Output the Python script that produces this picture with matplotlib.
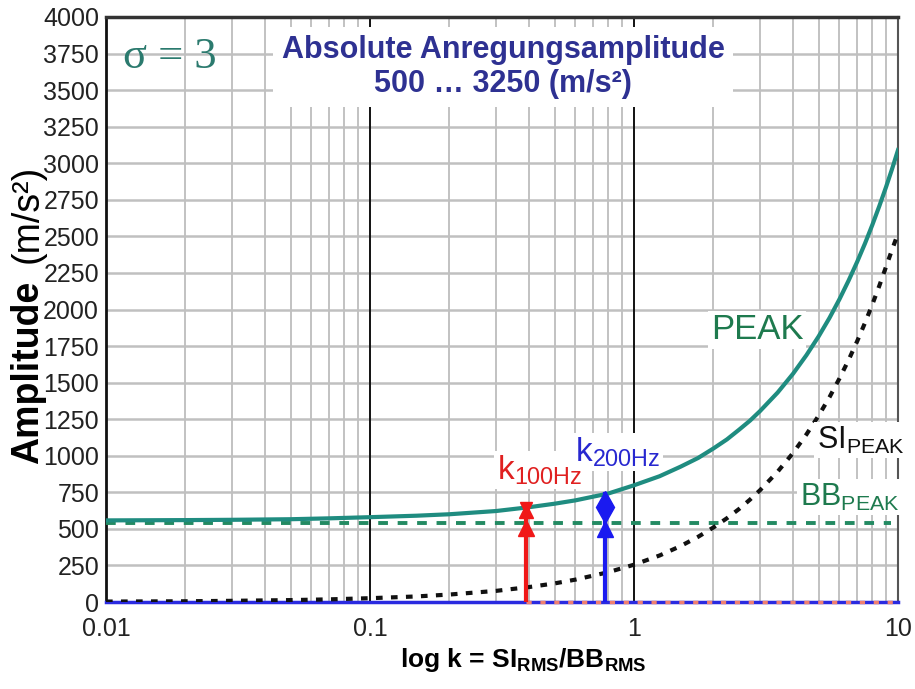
import numpy as np
import matplotlib
matplotlib.use("Agg")
import matplotlib.pyplot as plt

# values (k = SI_rms / BB_rms, amplitude in m/s^2)
k_vals = [0.01, 0.02, 0.03, 0.05, 0.07, 0.1, 0.15, 0.2, 0.3, 0.4, 0.5, 0.6, 0.8,
          1.0, 1.25, 1.5, 1.75, 2.0, 2.25, 2.5, 2.75, 3.0, 3.5, 4.0, 4.5, 5.0,
          5.5, 6.0, 6.5, 7.0, 7.5, 8.0, 8.5, 9.0, 9.5, 10.0]
peak = [558, 560, 562, 566, 572, 580, 590, 600, 622, 648, 672, 695, 742,
        798, 860, 925, 985, 1050, 1112, 1178, 1240, 1305, 1432, 1560, 1688, 1815,
        1942, 2070, 2198, 2325, 2452, 2580, 2708, 2835, 2962, 3090]
si_peak = [3, 5, 8, 13, 18, 26, 38, 51, 76, 102, 127, 153, 204,
           255, 318, 382, 446, 510, 573, 636, 700, 764, 891, 1018, 1146, 1273,
           1400, 1528, 1655, 1782, 1909, 2036, 2163, 2290, 2410, 2520]
bb_k = [0.01, 9.4]
bb_peak = [540, 540]

k100 = 0.39
k200 = 0.775
k100_top = 650
k200_top = 738

y_ticks = list(range(0, 4001, 250))
x_ticks = [0.01, 0.1, 1, 10]
x_ticklabels = ["0.01", "0.1", "1", "10"]

plt.rcParams['font.family'] = ['Liberation Sans', 'DejaVu Sans']
plt.rcParams['mathtext.fontset'] = 'custom'
plt.rcParams['mathtext.rm'] = 'Liberation Sans'
plt.rcParams['mathtext.bf'] = 'Liberation Sans:bold'
plt.rcParams['mathtext.it'] = 'Liberation Sans:italic'

W, H = 915, 689
def fx(x):
    return x / W
def fy(y):
    return 1 - y / H

teal = '#1f8c80'
green = '#1e7a4e'

fig = plt.figure(figsize=(W / 100, H / 100), dpi=100)
ax = fig.add_axes([fx(106), fy(602), (898 - 106) / W, (602 - 17) / H])

ax.set_xscale('log')
ax.set_xlim(0.01, 10)
ax.set_ylim(0, 4000)

# grid
ax.set_yticks(y_ticks)
ax.set_xticks(x_ticks)
ax.set_xticklabels(x_ticklabels)
ax.grid(True, which='minor', axis='x', color='#bdbdbd', lw=1.3)
ax.grid(True, which='major', axis='y', color='#c0c0c0', lw=1.8)
for xv in [0.1, 1]:
    ax.axvline(xv, color='#111111', lw=1.4, zorder=1)
ax.set_axisbelow(True)

ax.tick_params(which='both', length=0)
ax.tick_params(axis='y', pad=5)
ax.tick_params(axis='x', pad=11)
for lab in ax.get_yticklabels() + ax.get_xticklabels():
    lab.set_fontsize(18)
    lab.set_color('#222222')

for s in ['left', 'bottom']:
    ax.spines[s].set_linewidth(2)
    ax.spines[s].set_color('#111111')
ax.spines['top'].set_linewidth(2.5)
ax.spines['top'].set_color('#333333')
ax.spines['right'].set_linewidth(1.5)
ax.spines['right'].set_color('#555555')

# baseline
ax.plot([0.01, 10], [0, 0], color='#2a2ae0', lw=2.5, zorder=3, clip_on=False)
ax.plot([k100, 10], [0, 0], color='#f08070', lw=2.5, ls=(0, (1.5, 2.5)), zorder=3, clip_on=False)

# curves
ax.plot(bb_k, bb_peak, color='#238a62', lw=2.8, ls=(0, (2.5, 2.5)), zorder=4)
ax.plot(k_vals, si_peak, color='#111111', lw=3, ls=(0, (1.6, 2.0)), zorder=4)
ax.plot(k_vals, peak, color=teal, lw=3, zorder=5)

# arrows k_100Hz and k_200Hz
ax.plot([k100, k100], [0, k100_top], color='#f01818', lw=3, zorder=6)
ax.plot([k100], [505], marker='^', color='#f01818', ms=11, zorder=6)
ax.plot([k100], [620], marker='^', color='#f01818', ms=10, zorder=6)
ax.plot([k100], [645], marker='v', color='#f01818', ms=8, zorder=6)
ax.plot([k200, k200], [0, k200_top], color='#1a1af0', lw=3, zorder=6)
ax.plot([k200], [500], marker='^', color='#1a1af0', ms=11, zorder=6)
ax.plot([k200], [650], marker='d', color='#1a1af0', ms=16, zorder=6)

# labels inside the plot
box = dict(fc='white', ec='none', pad=2)
fig.text(fx(170), fy(57), r"σ = 3", family=['Liberation Serif', 'DejaVu Serif'],
         fontsize=32, color='#2b7a6e', ha='center', va='center')
fig.text(fx(503), fy(67), "Absolute Anregungsamplitude\n500 … 3250 (m/s²)",
         fontsize=22, fontweight='bold', color='#2e3192', ha='center', va='center',
         linespacing=1.15, bbox=dict(fc='white', ec='none', pad=6))
fig.text(fx(757), fy(330), "PEAK", fontsize=25, color=green, ha='center', va='center', bbox=box)
fig.text(fx(817), fy(440), r"SI$_{\mathrm{PEAK}}$", fontsize=22, color='#111111',
         ha='left', va='center', bbox=box)
fig.text(fx(800), fy(497), r"BB$_{\mathrm{PEAK}}$", fontsize=22, color=green,
         ha='left', va='center', bbox=box)
fig.text(fx(497), fy(470), r"k$_{\mathrm{100Hz}}$", fontsize=24, color='#e02020',
         ha='left', va='center', bbox=box)
fig.text(fx(575), fy(452), r"k$_{\mathrm{200Hz}}$", fontsize=24, color='#2828d0',
         ha='left', va='center', bbox=box)

# axis titles
fig.text(fx(28), fy(372), "Amplitude", rotation=90, fontsize=27, fontweight='bold',
         ha='center', va='center')
fig.text(fx(28), fy(214), "(m/s²)", rotation=90, fontsize=27, ha='center', va='center')
fig.text(fx(523), fy(660), r"log k = SI$_{\mathbf{RMS}}$/BB$_{\mathbf{RMS}}$",
         fontsize=19, fontweight='bold', ha='center', va='center')

fig.savefig("out.png", dpi=100)
